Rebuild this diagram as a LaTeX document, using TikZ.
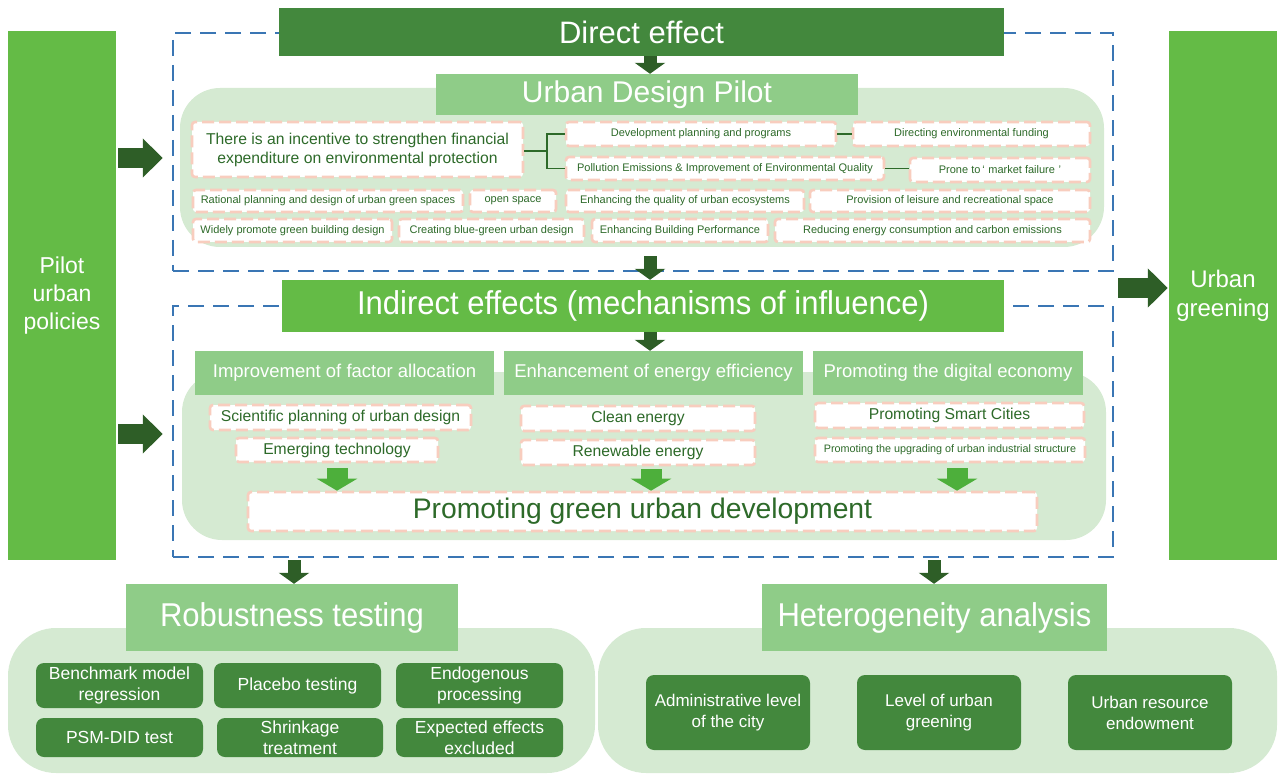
\documentclass[tikz,border=0pt]{standalone}
\usepackage{fontspec}
\setmainfont{Liberation Sans}
\newfontfamily\nrw{Liberation Sans}[FakeStretch=0.94]
\usetikzlibrary{arrows.meta,calc}
\definecolor{brightg}{RGB}{100,187,70}
\definecolor{darkg}{RGB}{67,136,61}
\definecolor{arrowd}{RGB}{46,94,39}
\definecolor{midg}{RGB}{143,204,136}
\definecolor{panelg}{RGB}{213,234,210}
\definecolor{salmon}{RGB}{248,205,190}
\definecolor{tgreen}{RGB}{45,106,41}
\definecolor{dblue}{RGB}{58,118,180}
\definecolor{lighta}{RGB}{77,175,59}
\newcommand\fs[2]{\fontsize{#1}{#2}\selectfont}
% \bx{name}{x1}{y1}{x2}{y2}{style}{text}
\newcommand\bx[7]{%
  \pgfmathsetmacro\bxw{#4-#2}\pgfmathsetmacro\bxh{#5-#3}%
  \pgfmathsetmacro\bxx{(#2+#4)/2}\pgfmathsetmacro\bxy{(#3+#5)/2}%
  \node[#6, minimum width=\bxw pt, minimum height=\bxh pt, inner sep=0pt] (#1) at (\bxx,\bxy) {#7};}
\begin{document}
\begin{tikzpicture}[x=1pt,y=-1pt,
  pale/.style={fill=white,draw=salmon,line width=2.6pt,dash pattern=on 12pt off 5pt,rounded corners=3pt,text=tgreen},
  hdr/.style={fill=midg,text=white},
  dbox/.style={fill=darkg,text=white,rounded corners=8pt,align=center},
  panel/.style={fill=panelg,rounded corners=40pt},
  dashbox/.style={draw=dblue,line width=2.5pt,dash pattern=on 16pt off 9pt},
  bar/.style={fill=brightg,text=white,align=center},
  bigarrow/.style={arrowd,line width=20pt,-{Triangle[length=20pt,width=38pt]}},
  smallarrow/.style={arrowd,line width=13pt,-{Triangle[length=11pt,width=30pt]}},
  lightarrow/.style={lighta,line width=21pt,-{Triangle[length=12pt,width=40pt]}},
  brk/.style={tgreen,line width=1.8pt}
]
\useasboundingbox (0,0) rectangle (1280,778);

% side bars
\bx{pilot}{8}{31}{116}{560}{bar,font=\fs{23}{28}}{Pilot\\urban\\policies}
\bx{green}{1169}{31}{1277}{560}{bar,font=\fs{24}{29}}{Urban\\greening}

% dashed frames
\bx{box1}{173}{33}{1113}{271}{dashbox}{}
\bx{box2}{173}{306}{1113}{557}{dashbox}{}

% ---------- direct effect ----------
\bx{panel1}{180}{88}{1104}{247}{panel}{}
\bx{direct}{279}{8}{1004}{56}{fill=darkg,text=white,font=\fs{31}{36}}{Direct effect}
\bx{udp}{436}{74}{858}{115}{hdr,font=\fs{30}{34}}{Urban Design Pilot}

\bx{inc}{192}{122}{523}{177}{pale,align=center,font=\fs{15.7}{19}}{There is an incentive to strengthen financial\\expenditure on environmental protection}
\bx{dev}{566}{122}{836}{146}{pale,font=\fs{11}{13}}{Development planning and programs}
\bx{dir}{853}{122}{1090}{146}{pale,font=\fs{11}{13}}{Directing environmental funding}
\bx{pol}{566}{157}{884}{180}{pale,font=\fs{11}{13}}{Pollution Emissions \& Improvement of Environmental Quality}
\bx{pro}{910}{158}{1090}{182}{pale,font=\fs{11}{13}}{Prone to\,‘\,\,market failure\,\,’}

\bx{r31}{193}{190}{463}{212}{pale,font=\fs{11}{13}}{Rational planning and design of urban green spaces}
\bx{r32}{470}{190}{556}{212}{pale,font=\fs{11}{13}}{open space}
\bx{r33}{566}{190}{804}{212}{pale,font=\fs{11}{13}}{Enhancing the quality of urban ecosystems}
\bx{r34}{810}{190}{1090}{212}{pale,font=\fs{11}{13}}{Provision of leisure and recreational space}
\bx{r41}{193}{219}{392}{242}{pale,font=\fs{11}{13}}{Widely promote green building design}
\bx{r42}{399}{219}{584}{242}{pale,font=\fs{11}{13}}{Creating blue-green urban design}
\bx{r43}{592}{219}{768}{242}{pale,font=\fs{11}{13}}{Enhancing Building Performance}
\bx{r44}{775}{219}{1090}{242}{pale,font=\fs{11}{13}}{Reducing energy consumption and carbon emissions}

% bracket
\coordinate (bm) at (547,151);
\draw[brk] (inc.east |- bm) -- (bm);
\draw[brk] (dev.west) -| (bm) |- (pol.west);
\draw[brk] (dev.east) -- (dir.west);
\draw[brk] (pol.east) -- (pol.east -| pro.west);

% ---------- indirect effects ----------
\bx{panel2}{182}{372}{1106}{540}{panel}{}
\bx{ind}{282}{280}{1004}{332}{fill=brightg,text=white,font=\nrw\fs{33}{38}}{Indirect effects (mechanisms of influence)}
\bx{h1}{195}{351}{494}{395}{hdr,font=\fs{18.5}{22}}{Improvement of factor allocation}
\bx{h2}{504}{351}{803}{395}{hdr,font=\fs{18.5}{22}}{Enhancement of energy efficiency}
\bx{h3}{813}{351}{1083}{395}{hdr,font=\fs{18.5}{22}}{Promoting the digital economy}

\bx{a1}{210}{405}{471}{430}{pale,font=\fs{15.7}{19}}{Scientific planning of urban design}
\bx{a2}{236}{438}{438}{462}{pale,font=\fs{15.7}{19}}{Emerging technology}
\bx{b1}{521}{406}{755}{431}{pale,font=\fs{15.7}{19}}{Clean energy}
\bx{b2}{521}{440}{755}{465}{pale,font=\fs{15.7}{19}}{Renewable energy}
\bx{c1}{815}{403}{1084}{428}{pale,font=\fs{15.7}{19}}{Promoting Smart Cities}
\bx{c2}{815}{438}{1085}{462}{pale,font=\fs{10.8}{13}}{Promoting the upgrading of urban industrial structure}

\bx{pgd}{248}{492}{1037}{531}{pale,font=\fs{28.3}{32}}{Promoting green urban development}

% ---------- bottom sections ----------
\bx{panelL}{8}{628}{595}{773}{panel,rounded corners=48pt}{}
\bx{panelR}{598}{628}{1277}{773}{panel,rounded corners=48pt}{}
\bx{rob}{126}{584}{458}{651}{hdr,font=\nrw\fs{33}{38}}{Robustness testing}
\bx{het}{762}{584}{1107}{651}{hdr,font=\nrw\fs{33}{38}}{Heterogeneity analysis}

\bx{t1}{36}{663}{203}{708}{dbox,font=\fs{17.5}{21}}{Benchmark model\\regression}
\bx{t2}{214}{663}{381}{708}{dbox,font=\fs{17.5}{21}}{Placebo testing}
\bx{t3}{396}{663}{563}{708}{dbox,font=\fs{17.5}{21}}{Endogenous\\processing}
\bx{t4}{36}{718}{203}{757}{dbox,font=\fs{17.5}{21}}{PSM-DID test}
\bx{t5}{217}{718}{383}{757}{dbox,font=\fs{17.5}{21}}{Shrinkage\\treatment}
\bx{t6}{396}{718}{563}{757}{dbox,font=\fs{17.5}{21}}{Expected effects\\excluded}

\bx{u1}{646}{675}{810}{750}{dbox,font=\fs{17}{21}}{Administrative level\\of the city}
\bx{u2}{857}{675}{1021}{750}{dbox,font=\fs{17}{21}}{Level of urban\\greening}
\bx{u3}{1068}{675}{1232}{750}{dbox,font=\fs{17}{21}}{Urban resource\\endowment}

% ---------- arrows ----------
\coordinate (ax) at (650,0);
\coordinate (ly1) at (0,158);
\coordinate (ly2) at (0,434);
\coordinate (ry) at (0,288);
\draw[bigarrow] ([xshift=2pt]pilot.east |- ly1) -- ([xshift=-9pt]box1.west |- ly1);
\draw[bigarrow] ([xshift=2pt]pilot.east |- ly2) -- ([xshift=-9pt]box2.west |- ly2);
\draw[bigarrow] ([xshift=4pt]box1.east |- ry) -- ([xshift=-1pt]green.west |- ry);

\draw[smallarrow] (direct.south -| ax) -- (udp.north -| ax);
\draw[smallarrow] ([yshift=-9pt]panel1.south -| ax) -- (ind.north -| ax);
\draw[smallarrow] (ind.south -| ax) -- (h2.north -| ax);

\coordinate (lx1) at (337,0);
\coordinate (lx2) at (651,0);
\coordinate (lx3) at (957,0);
\draw[lightarrow] ([yshift=-5pt]a2.south -| lx1) -- (pgd.north -| lx1);
\draw[lightarrow] ([yshift=-3pt]b2.south -| lx2) -- (pgd.north -| lx2);
\draw[lightarrow] ([yshift=-5pt]c2.south -| lx3) -- (pgd.north -| lx3);

\coordinate (bx1) at (294,0);
\coordinate (bx2) at (934,0);
\draw[smallarrow] ([yshift=-2pt]box2.south -| bx1) -- (rob.north -| bx1);
\draw[smallarrow] ([yshift=-2pt]box2.south -| bx2) -- (het.north -| bx2);
\end{tikzpicture}
\end{document}
